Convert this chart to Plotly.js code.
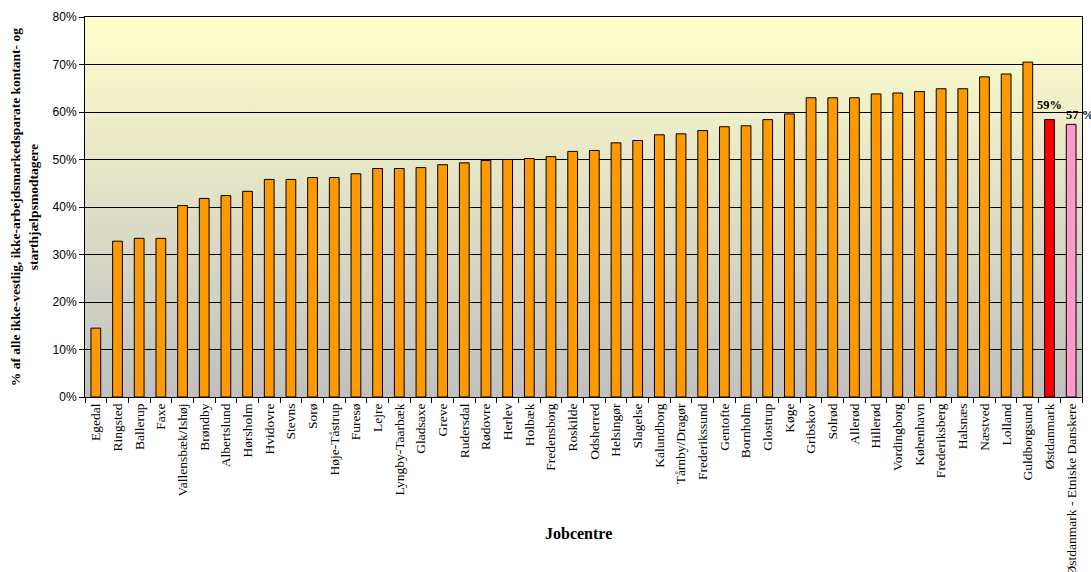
<!DOCTYPE html>
<html><head><meta charset="utf-8">
<script src="https://cdn.plot.ly/plotly-3.0.1.min.js"></script>
<style>html,body{margin:0;padding:0;background:#fff;overflow:hidden}#chart{width:1091px;height:572px}</style>
</head><body><div id="chart"></div>
<script>
const categories = ["Egedal","Ringsted","Ballerup","Faxe","Vallensbæk/Ishøj","Brøndby","Albertslund","Hørsholm","Hvidovre","Stevns","Sorø","Høje-Tåstrup","Furesø","Lejre","Lyngby-Taarbæk","Gladsaxe","Greve","Rudersdal","Rødovre","Herlev","Holbæk","Fredensborg","Roskilde","Odsherred","Helsingør","Slagelse","Kalundborg","Tårnby/Dragør","Frederikssund","Gentofte","Bornholm","Glostrup","Køge","Gribskov","Solrød","Allerød","Hillerød","Vordingborg","København","Frederiksberg","Halsnæs","Næstved","Lolland","Guldborgsund","Østdanmark","Østdanmark - Etniske Danskere"];
const values = [0.145,0.328,0.334,0.334,0.403,0.418,0.424,0.433,0.458,0.458,0.462,0.462,0.470,0.481,0.481,0.483,0.489,0.493,0.498,0.500,0.502,0.506,0.517,0.519,0.535,0.540,0.552,0.554,0.561,0.569,0.571,0.584,0.596,0.630,0.630,0.630,0.638,0.640,0.643,0.649,0.649,0.674,0.680,0.705,0.584,0.574];
const barColors = categories.map((c,i)=> i===44 ? "#FF0000" : (i===45 ? "#FF99CC" : "#FF9900"));
const labelTexts = ["59%","57 %"];
const yTickVals = [0,0.1,0.2,0.3,0.4,0.5,0.6,0.7,0.8];
const yTickText = ["0%","10%","20%","30%","40%","50%","60%","70%","80%"];

const gradSvg = '<svg xmlns="http://www.w3.org/2000/svg" width="100" height="100" preserveAspectRatio="none"><defs><linearGradient id="g" x1="0" y1="0" x2="0" y2="1"><stop offset="0" stop-color="#FFFFCC"/><stop offset="1" stop-color="#C0C0C0"/></linearGradient></defs><rect width="100" height="100" fill="url(#g)"/></svg>';
const gradUri = 'data:image/svg+xml;base64,' + btoa(gradSvg);

const trace = {
  type: "bar", x: categories, y: values,
  marker: {color: barColors, line: {color: "#000000", width: 1}},
  hoverinfo: "x+y"
};

const layout = {
  width: 1091, height: 572,
  margin: {l: 85, r: 9, t: 17, b: 175},
  paper_bgcolor: "#FFFFFF",
  plot_bgcolor: "rgba(0,0,0,0)",
  bargap: 0.55,
  showlegend: false,
  images: [{source: gradUri, xref: "paper", yref: "paper", x: 0, y: 1, sizex: 1, sizey: 1, sizing: "stretch", layer: "below", xanchor: "left", yanchor: "top"}],
  xaxis: {
    type: "category", tickangle: -90, range: [-0.5, categories.length - 0.5], autorange: false,
    tickfont: {family: "Liberation Serif, Times New Roman, serif", size: 13.5, color: "#000"},
    showline: true, linecolor: "#000", linewidth: 1, mirror: true,
    ticks: "outside", ticklen: 5, tickcolor: "#000", tickson: "boundaries",
    showgrid: false, automargin: false
  },
  yaxis: {
    range: [0, 0.8], autorange: false, tickvals: yTickVals, ticktext: yTickText,
    tickfont: {family: "Liberation Sans, Arial, sans-serif", size: 12, color: "#000"},
    showline: true, linecolor: "#000", linewidth: 1, mirror: true,
    ticks: "outside", ticklen: 5, tickcolor: "#000",
    showgrid: true, gridcolor: "#000", gridwidth: 1, zeroline: false,
    automargin: false
  },
  annotations: [
    {text: "<b>% af alle ikke-vestlig, ikke-arbejdsmarkedsparate kontant- og<br>starthjælpsmodtagere</b>", xref: "paper", yref: "paper", x: -0.061, y: 0.5, textangle: -90, showarrow: false, xanchor: "center", yanchor: "middle", font: {family: "Liberation Serif, Times New Roman, serif", size: 13.5, color: "#000"}},
    {text: "<b>Jobcentre</b>", xref: "paper", yref: "paper", x: 0.495, y: -0.36, showarrow: false, xanchor: "center", yanchor: "middle", font: {family: "Liberation Serif, Times New Roman, serif", size: 16, color: "#000"}},
    {text: "<b>" + labelTexts[0] + "</b>", x: categories[44], y: values[44], xref: "x", yref: "y", showarrow: false, yanchor: "bottom", xanchor: "center", xshift: 0, yshift: 6, font: {family: "Liberation Serif, Times New Roman, serif", size: 12.5, color: "#000"}},
    {text: "<b>" + labelTexts[1] + "</b>", x: categories[45], y: values[45], xref: "x", yref: "y", showarrow: false, yanchor: "bottom", xanchor: "left", xshift: -7, yshift: 0, font: {family: "Liberation Serif, Times New Roman, serif", size: 12.5, color: "#000"}}
  ]
};
Plotly.newPlot("chart", [trace], layout, {displayModeBar: false, staticPlot: true});
</script></body></html>
